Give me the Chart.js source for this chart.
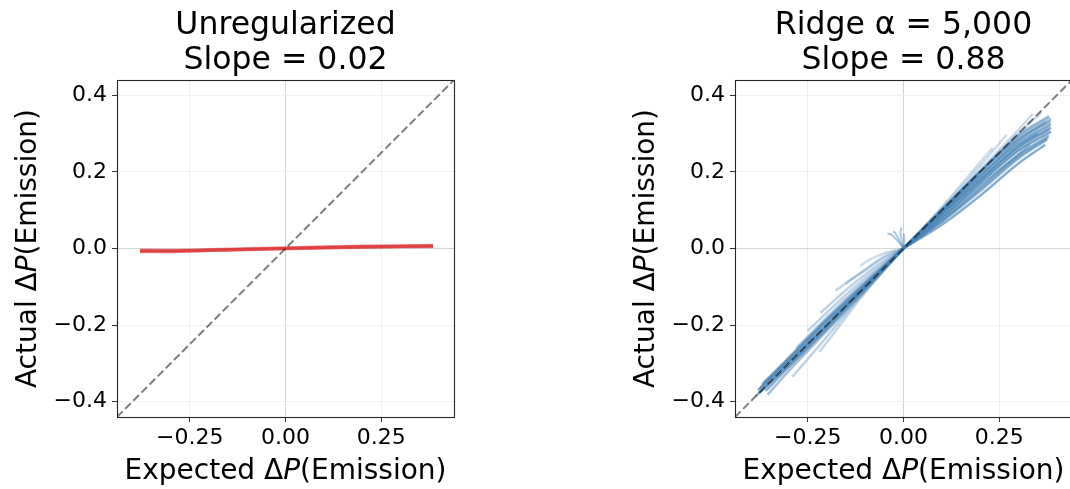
<!DOCTYPE html>
<html>
<head>
<meta charset="utf-8">
<script src="https://cdn.jsdelivr.net/npm/chart.js@4.4.1/dist/chart.umd.min.js"></script>
<style>
  html, body { margin: 0; padding: 0; background: #fff; overflow: hidden; width: 1070px; height: 489px; }
  canvas { position: absolute; top: 0; }
  #c1 { left: 0; }
  #c2 { left: 535px; }
</style>
</head>
<body>
<canvas id="c1" width="535" height="489"></canvas>
<canvas id="c2" width="540" height="489"></canvas>
<script>
// ---------- data ----------
const titleLeft = ['Unregularized', 'Slope = 0.02'];
const titleRight = ['Ridge \u03b1 = 5,000', 'Slope = 0.88'];
// axis labels as [text, italic?] pieces (the P is italic in the reference)
const xAxisLabel = [['Expected \u0394', false], ['P', true], ['(Emission)', false]];
const yAxisLabel = [['Actual \u0394', false], ['P', true], ['(Emission)', false]];

const axisLimit = 0.44;
const xTickValues = [-0.25, 0, 0.25];
const xTickLabels = ['\u22120.25', '0.00', '0.25'];
const yTickValues = [-0.4, -0.2, 0, 0.2, 0.4];
const yTickLabels = ['\u22120.4', '\u22120.2', '0.0', '0.2', '0.4'];

const identityLine = [[-0.44, -0.44], [0.44, 0.44]];

// Unregularized model: near-flat lines (x, y pairs)
const redLines = [
  [[-0.38, -0.006], [-0.3, -0.007], [-0.2, -0.004], [0, 0.000], [0.2, 0.004], [0.385, 0.007]],
  [[-0.38, -0.007], [-0.3, -0.006], [-0.2, -0.005], [0, 0.001], [0.2, 0.005], [0.385, 0.006]],
  [[-0.38, -0.004], [-0.3, -0.005], [-0.2, -0.003], [0, 0.002], [0.2, 0.006], [0.385, 0.008]],
  [[-0.38, -0.008], [-0.3, -0.008], [-0.2, -0.005], [0, 0.000], [0.2, 0.003], [0.385, 0.005]],
  [[-0.38, -0.006], [-0.3, -0.006], [-0.2, -0.005], [0, -0.001], [0.2, 0.004], [0.385, 0.006]]
];

// Ridge model: positive-side curves
const bluePositive = [
  [[0, 0], [0.1, 0.062], [0.2, 0.138], [0.3, 0.222], [0.37, 0.271]],
  [[0, 0], [0.1, 0.070], [0.2, 0.150], [0.3, 0.235], [0.375, 0.285]],
  [[0, 0], [0.1, 0.075], [0.2, 0.160], [0.3, 0.245], [0.38, 0.295]],
  [[0, 0], [0.1, 0.080], [0.2, 0.170], [0.3, 0.255], [0.385, 0.305]],
  [[0, 0], [0.1, 0.085], [0.2, 0.175], [0.3, 0.260], [0.38, 0.310]],
  [[0, 0], [0.1, 0.090], [0.2, 0.180], [0.3, 0.265], [0.385, 0.315]],
  [[0, 0], [0.1, 0.092], [0.2, 0.185], [0.3, 0.270], [0.383, 0.320]],
  [[0, 0], [0.1, 0.095], [0.2, 0.190], [0.3, 0.275], [0.385, 0.325]],
  [[0, 0], [0.1, 0.097], [0.2, 0.193], [0.3, 0.280], [0.383, 0.330]],
  [[0, 0], [0.1, 0.100], [0.2, 0.200], [0.3, 0.285], [0.385, 0.335]],
  [[0, 0], [0.1, 0.100], [0.2, 0.200], [0.3, 0.290], [0.385, 0.340]],
  [[0, 0], [0.1, 0.100], [0.2, 0.200], [0.3, 0.295], [0.38, 0.345]],
  [[0, 0], [0.1, 0.100], [0.2, 0.200], [0.3, 0.300], [0.36, 0.355]],
  [[0, 0], [0.1, 0.100], [0.2, 0.205], [0.3, 0.310], [0.338, 0.352]],
  [[0, 0], [0.1, 0.105], [0.2, 0.215], [0.269, 0.297]],
  [[0, 0], [0.1, 0.108], [0.2, 0.225], [0.233, 0.263]],
  [[0, 0], [0.1, 0.080], [0.2, 0.165], [0.3, 0.245], [0.33, 0.272]],
  [[0, 0], [0.1, 0.088], [0.2, 0.178], [0.3, 0.268], [0.35, 0.300]],
  [[0, 0], [0.1, 0.072], [0.2, 0.155], [0.3, 0.240], [0.378, 0.290]],
  [[0, 0], [0.1, 0.094], [0.2, 0.188], [0.3, 0.282], [0.372, 0.330]]
];

// Ridge model: negative-side curves
const blueNegative = [
  [[0, 0], [-0.1, -0.100], [-0.2, -0.200], [-0.3, -0.295], [-0.38, -0.370]],
  [[0, 0], [-0.1, -0.095], [-0.2, -0.190], [-0.3, -0.290], [-0.375, -0.365]],
  [[0, 0], [-0.1, -0.105], [-0.2, -0.210], [-0.3, -0.310], [-0.36, -0.372]],
  [[0, 0], [-0.1, -0.110], [-0.2, -0.215], [-0.3, -0.320], [-0.355, -0.382]],
  [[0, 0], [-0.1, -0.090], [-0.2, -0.185], [-0.3, -0.285], [-0.37, -0.355]],
  [[0, 0], [-0.1, -0.100], [-0.2, -0.205], [-0.3, -0.305], [-0.378, -0.378]],
  [[0, 0], [-0.1, -0.085], [-0.2, -0.180], [-0.28, -0.260]],
  [[0, 0], [-0.05, -0.012], [-0.09, -0.030], [-0.113, -0.045]],
  [[0, 0], [-0.05, -0.020], [-0.1, -0.055], [-0.152, -0.092]],
  [[0, 0], [-0.06, -0.030], [-0.12, -0.070], [-0.178, -0.110]],
  [[0, 0], [-0.07, -0.045], [-0.14, -0.100], [-0.217, -0.168]],
  [[0, 0], [-0.08, -0.060], [-0.16, -0.130], [-0.25, -0.215]],
  [[0, 0], [-0.1, -0.115], [-0.2, -0.245], [-0.22, -0.270]],
  [[0, 0], [-0.1, -0.110], [-0.2, -0.230], [-0.29, -0.335]],
  [[0, 0], [-0.1, -0.098], [-0.2, -0.198], [-0.3, -0.300], [-0.385, -0.385]],
  [[0, 0], [-0.1, -0.092], [-0.2, -0.188], [-0.3, -0.288], [-0.365, -0.352]]
];

// Ridge model: small curls just above the origin
const blueCurls = [
  [[0, 0], [-0.004, 0.020], [-0.008, 0.040], [-0.005, 0.055]],
  [[0, 0], [-0.015, 0.020], [-0.030, 0.035], [-0.042, 0.039]],
  [[0, 0], [-0.010, 0.020], [-0.020, 0.038], [-0.026, 0.045]],
  [[0, 0], [0.002, 0.020], [0.000, 0.040]]
];

// ---------- styles ----------
const FONT = "'DejaVu Sans', 'Liberation Sans', sans-serif";
const blueAlphaPos = [0.65, 0.6, 0.55, 0.7, 0.5, 0.65, 0.45, 0.6, 0.4, 0.55, 0.45, 0.6, 0.3, 0.3, 0.28, 0.28, 0.45, 0.5, 0.55, 0.4];
const blueAlphaNeg = [0.7, 0.6, 0.65, 0.5, 0.55, 0.7, 0.45, 0.28, 0.3, 0.3, 0.35, 0.35, 0.32, 0.35, 0.65, 0.5];

const toXY = pts => pts.map(p => ({ x: p[0], y: p[1] }));

function drawPieces(ctx, pieces, size) {
  const fonts = pieces.map(p => (p[1] ? 'italic ' : '') + size + 'px ' + FONT);
  const widths = pieces.map((p, i) => { ctx.font = fonts[i]; return ctx.measureText(p[0]).width; });
  const total = widths.reduce((a, b) => a + b, 0);
  let x = -total / 2;
  pieces.forEach((p, i) => {
    ctx.font = fonts[i];
    ctx.fillText(p[0], x, 0);
    x += widths[i];
  });
}

const framePlugin = {
  id: 'frame',
  afterDraw(chart) {
    const { ctx, chartArea: a } = chart;
    ctx.save();
    ctx.strokeStyle = '#262626';
    ctx.lineWidth = 1.1;
    ctx.strokeRect(Math.round(a.left) + 0.5, Math.round(a.top) + 0.5,
                   Math.round(a.right - a.left), Math.round(a.bottom - a.top));
    // axis labels
    ctx.fillStyle = '#000';
    ctx.textBaseline = 'alphabetic';
    ctx.textAlign = 'left';
    ctx.save();
    ctx.translate((a.left + a.right) / 2, a.bottom + 62);
    drawPieces(ctx, xAxisLabel, 28);
    ctx.restore();
    ctx.save();
    ctx.translate(a.left - 81.5, (a.top + a.bottom) / 2);
    ctx.rotate(-Math.PI / 2);
    drawPieces(ctx, yAxisLabel, 28);
    ctx.restore();
    ctx.restore();
  }
};

function gridColor(ctx) {
  if (ctx.tick && ctx.tick.value === 0) return '#d6d6d6';
  return '#f1f1f1';
}

function makeOptions(title, leftPad, rightPad) {
  return {
    responsive: false,
    animation: false,
    devicePixelRatio: 1,
    layout: { padding: { left: leftPad, right: rightPad, top: 0, bottom: 0 } },
    plugins: {
      legend: { display: false },
      tooltip: { enabled: false },
      title: {
        display: true,
        text: title,
        fullSize: false,
        color: '#000',
        font: { family: FONT, size: 31.5, weight: 'normal', lineHeight: 35 / 31.5 },
        padding: { top: 8, bottom: 2 }
      }
    },
    scales: {
      x: {
        type: 'linear',
        min: -axisLimit, max: axisLimit,
        afterBuildTicks: s => { s.ticks = xTickValues.map(v => ({ value: v })); },
        afterFit: s => { s.height = 72; },
        ticks: {
          callback: (v, i) => xTickLabels[i],
          color: '#000',
          font: { family: FONT, size: 22 },
          padding: 3,
          maxRotation: 0,
          autoSkip: false
        },
        grid: { color: gridColor, lineWidth: 1, tickColor: '#333', tickLength: 5, tickWidth: 1 },
        border: { display: false },
        title: { display: false }
      },
      y: {
        type: 'linear',
        min: -axisLimit, max: axisLimit,
        afterBuildTicks: s => { s.ticks = yTickValues.map(v => ({ value: v })); },
        afterFit: s => { s.width = 117; },
        ticks: {
          callback: (v, i) => yTickLabels[i],
          color: '#000',
          font: { family: FONT, size: 22 },
          padding: 5,
          autoSkip: false
        },
        grid: { color: gridColor, lineWidth: 1, tickColor: '#333', tickLength: 5, tickWidth: 1 },
        border: { display: false },
        title: { display: false }
      }
    }
  };
}

function lineDataset(pts, color, width, order, extra) {
  return Object.assign({
    data: toXY(pts),
    showLine: true,
    borderColor: color,
    backgroundColor: color,
    borderWidth: width,
    pointRadius: 0,
    pointHoverRadius: 0,
    fill: false,
    tension: 0.35,
    order: order
  }, extra || {});
}

const dashStyle = { borderDash: [8, 3.5], tension: 0, borderCapStyle: 'butt' };

// Left chart
const leftSets = [lineDataset(identityLine, 'rgba(0,0,0,0.5)', 2, 0, dashStyle)];
redLines.forEach((l, i) => leftSets.push(lineDataset(l, 'rgba(222,55,55,0.45)', 3.2, 1 + i)));
new Chart(document.getElementById('c1'), {
  type: 'scatter',
  data: { datasets: leftSets },
  options: makeOptions(titleLeft, 0, 81),
  plugins: [framePlugin]
});

// Right chart
const rightSets = [lineDataset(identityLine, 'rgba(0,0,0,0.5)', 2, 0, dashStyle)];
bluePositive.forEach((l, i) => rightSets.push(lineDataset(l, `rgba(70,130,180,${blueAlphaPos[i]})`, 2.5, 1 + i)));
blueNegative.forEach((l, i) => rightSets.push(lineDataset(l, `rgba(70,130,180,${blueAlphaNeg[i]})`, 2.5, 40 + i)));
blueCurls.forEach((l, i) => rightSets.push(lineDataset(l, 'rgba(70,130,180,0.45)', 2, 80 + i)));
new Chart(document.getElementById('c2'), {
  type: 'scatter',
  data: { datasets: rightSets },
  options: makeOptions(titleRight, 83, 3),
  plugins: [framePlugin]
});
</script>
</body>
</html>
